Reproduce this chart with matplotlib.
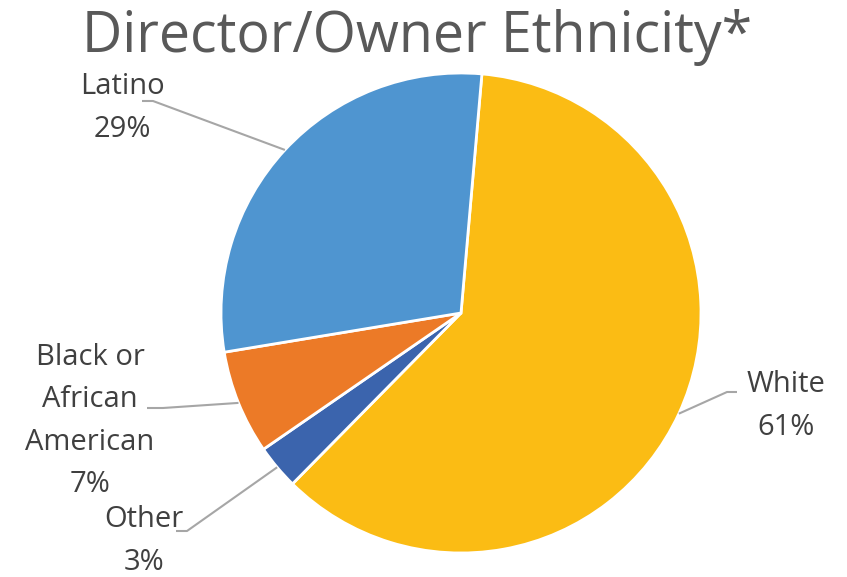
import matplotlib.pyplot as plt
import numpy as np

plt.rcParams['font.family'] = ['Open Sans', 'DejaVu Sans']

# data
labels = ['White', 'Other', 'Black or\nAfrican\nAmerican', 'Latino']
shares = [61, 3, 7, 29]
colors = ['#FBBC14', '#3B64AD', '#EC7A27', '#4F95D0']

W, H = 847, 577
cx, cy, R = 461, 313, 240  # pie centre / radius in pixels


def px(x, y):
    # pixel position -> data coords (pie radius = 1)
    return (x - cx) / R, (cy - y) / R


fig = plt.figure(figsize=(W / 100, H / 100), dpi=100)
ax = fig.add_axes([0, 0, 1, 1])

wedges, _ = ax.pie(shares, colors=colors, startangle=85, counterclock=False,
                   radius=1, center=(0, 0), frame=True,
                   wedgeprops=dict(edgecolor='white', linewidth=2))
ax.set_xlim(-cx / R, (W - cx) / R)
ax.set_ylim((cy - H) / R, cy / R)
ax.set_aspect('auto')
ax.axis('off')

# label block centre, leader start and elbow (pixels)
label_pos = [(786, 406), (144, 541), (90, 421), (122, 108)]
leader = [((737, 392), (727, 392)),
          ((176, 531), (187, 531)),
          ((147, 408), (163, 408)),
          ((142, 101), (153, 101))]

for w, lab, val, pos, (p0, p1) in zip(wedges, labels, shares, label_pos, leader):
    ang = np.deg2rad((w.theta1 + w.theta2) / 2)
    ex, ey = np.cos(ang), np.sin(ang)
    x0, y0 = px(*p0)
    x1, y1 = px(*p1)
    ax.plot([x0, x1, ex], [y0, y1, ey], color='#A6A6A6', lw=1.5,
            solid_capstyle='butt', zorder=1)
    tx, ty = px(*pos)
    ax.text(tx, ty, f'{lab}\n{val}%', ha='center', va='center',
            multialignment='center', fontsize=21, color='#404040',
            linespacing=1.6)

fig.text(417 / W, 1 - 38 / H, 'Director/Owner Ethnicity*', ha='center',
         va='center', fontsize=40, color='#595959')

fig.savefig('out.png', dpi=100)
